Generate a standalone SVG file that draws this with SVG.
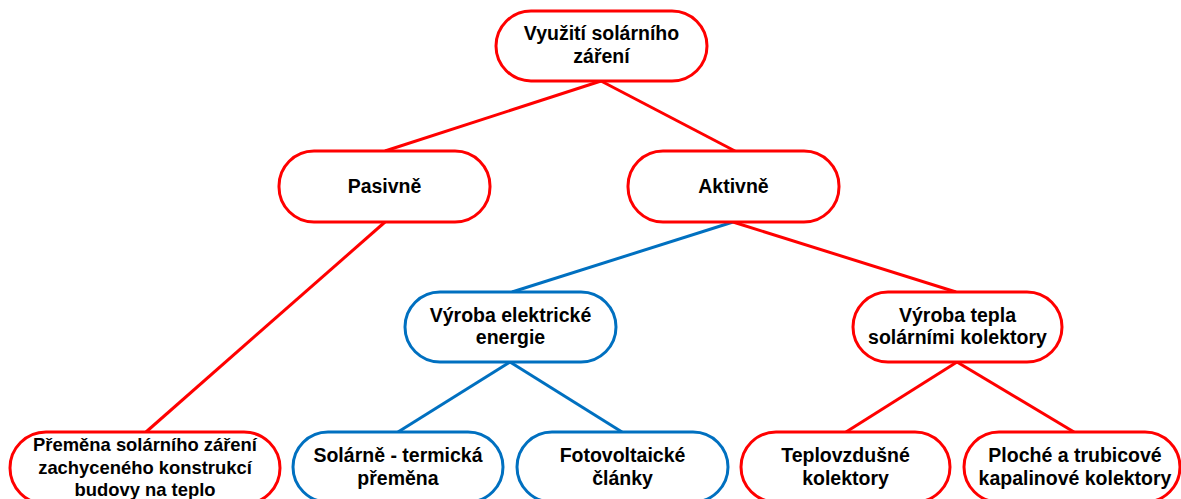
<svg xmlns="http://www.w3.org/2000/svg" width="1181" height="499" viewBox="0 0 1181 499">
<style>
.r{fill:#fff;stroke:#ff0000;stroke-width:3}
.b{fill:#fff;stroke:#0070c0;stroke-width:3}
.lr{stroke:#ff0000;stroke-width:3;fill:none}
.lb{stroke:#0070c0;stroke-width:3;fill:none}
text{font-family:"Liberation Sans",Arial,sans-serif;font-weight:bold;font-size:19.5px;fill:#000;text-anchor:middle}
.s{font-size:18.4px}
</style>
<rect width="1181" height="499" fill="#fff"/>
<g id="connectors">
<line class="lr" x1="601" y1="81" x2="385" y2="151"/>
<line class="lr" x1="601" y1="81" x2="735" y2="151"/>
<line class="lr" x1="385" y1="222" x2="146" y2="432"/>
<line class="lb" x1="733" y1="222" x2="512" y2="292"/>
<line class="lr" x1="733" y1="222" x2="956" y2="292"/>
<line class="lb" x1="510" y1="362" x2="398" y2="432"/>
<line class="lb" x1="510" y1="362" x2="622" y2="432"/>
<line class="lr" x1="957" y1="362" x2="846" y2="432"/>
<line class="lr" x1="957" y1="362" x2="1074" y2="432"/>
</g>
<g id="n-root">
<rect class="r" x="496" y="11" width="211" height="70" rx="35"/>
<text x="601.5" y="40">Využití solárního</text>
<text x="601.5" y="63">záření</text>
</g>
<g id="n-pasivne">
<rect class="r" x="279" y="151" width="211" height="71" rx="35"/>
<text x="384.5" y="193">Pasivně</text>
</g>
<g id="n-aktivne">
<rect class="r" x="628" y="151" width="211" height="71" rx="35"/>
<text x="733.5" y="193">Aktivně</text>
</g>
<g id="n-elektricka">
<rect class="b" x="405" y="292" width="211" height="70" rx="35"/>
<text x="510.5" y="322">Výroba elektrické</text>
<text x="510.5" y="344">energie</text>
</g>
<g id="n-teplo">
<rect class="r" x="853" y="292" width="209" height="70" rx="35"/>
<text x="957.5" y="322">Výroba tepla</text>
<text x="957.5" y="344">solárními kolektory</text>
</g>
<g id="n-premena">
<rect class="r" x="10" y="432" width="270" height="72" rx="36"/>
<text class="s" x="145" y="451">Přeměna solárního záření</text>
<text class="s" x="145" y="473.5">zachyceného konstrukcí</text>
<text class="s" x="145" y="496">budovy na teplo</text>
</g>
<g id="n-solarne">
<rect class="b" x="293" y="432" width="210" height="70" rx="35"/>
<text x="398" y="462">Solárně - termická</text>
<text x="398" y="485">přeměna</text>
</g>
<g id="n-foto">
<rect class="b" x="517" y="432" width="211" height="70" rx="35"/>
<text x="622.5" y="462">Fotovoltaické</text>
<text x="622.5" y="485">články</text>
</g>
<g id="n-teplovzdusne">
<rect class="r" x="741" y="432" width="209" height="70" rx="35"/>
<text x="845.5" y="462">Teplovzdušné</text>
<text x="845.5" y="485">kolektory</text>
</g>
<g id="n-ploche">
<rect class="r" x="964" y="432" width="216" height="70" rx="35"/>
<text x="1075" y="462">Ploché a trubicové</text>
<text x="1075" y="485">kapalinové kolektory</text>
</g>
</svg>
